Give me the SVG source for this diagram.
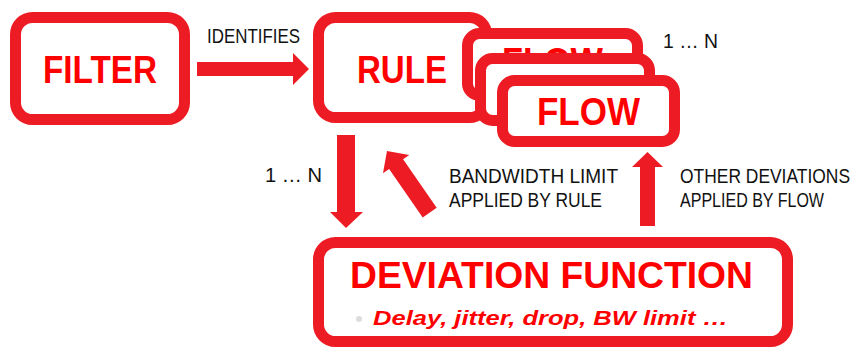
<svg xmlns="http://www.w3.org/2000/svg" width="854" height="347" viewBox="0 0 854 347">
<style>
.box{fill:#fff;stroke:#ED1C24;stroke-width:11}
.t{font-family:"Liberation Sans",Arial,sans-serif;font-weight:bold;fill:#FF0000}
.lbl{font-family:"Liberation Sans",Arial,sans-serif;font-size:21px;fill:#111}
.arr{fill:#ED1C24}
</style>
<rect width="854" height="347" fill="#fff"/>
<g id="filter">
<rect class="box" x="15.5" y="17.5" width="169" height="102" rx="17"/>
<text class="t" x="43" y="83" font-size="39" textLength="114" lengthAdjust="spacingAndGlyphs">FILTER</text>
</g>
<g id="rule">
<rect class="box" x="318.5" y="17.5" width="168" height="100" rx="17"/>
<text class="t" x="357" y="83" font-size="39" textLength="90" lengthAdjust="spacingAndGlyphs">RULE</text>
</g>
<g id="flow1">
<rect class="box" x="467.5" y="33.5" width="170" height="62" rx="12"/>
<text class="t" x="502" y="75" font-size="38" textLength="101" lengthAdjust="spacingAndGlyphs">FLOW</text>
</g>
<g id="flow2">
<rect class="box" x="480.5" y="58.5" width="169" height="62" rx="12"/>
</g>
<g id="flow3">
<rect class="box" x="502.5" y="80.5" width="172" height="61" rx="12"/>
<text class="t" x="537" y="125" font-size="38" textLength="103" lengthAdjust="spacingAndGlyphs">FLOW</text>
</g>
<g id="deviation">
<rect class="box" x="318.5" y="242.5" width="469" height="99" rx="17"/>
<text class="t" x="350" y="288" font-size="36" textLength="403" lengthAdjust="spacingAndGlyphs">DEVIATION FUNCTION</text>
<circle cx="359" cy="319" r="3" fill="#ddd"/>
<text class="t" x="373" y="325" font-size="21" font-style="italic" textLength="355" lengthAdjust="spacingAndGlyphs">Delay, jitter, drop, BW limit …</text>
</g>
<g id="connectors">
<polygon class="arr" points="197,62 293,62 293,53 309,69 293,85 293,76 197,76"/>
<polygon class="arr" points="337,135 355,135 355,212 363,212 346,228 330,212 337,212"/>
<polygon class="arr" points="640,226 655,226 655,167 663,167 647.5,152 632,167 640,167"/>
<polygon class="arr" transform="translate(387,151) rotate(-34.7)" points="0,0 16,16 8.5,16 8.5,75 -8.5,75 -8.5,16 -16,16"/>
<text class="lbl" x="207" y="43" font-size="15.5" textLength="93" lengthAdjust="spacingAndGlyphs">IDENTIFIES</text>
<text class="lbl" x="663" y="48" textLength="55" lengthAdjust="spacingAndGlyphs">1 … N</text>
<text class="lbl" x="265" y="182" textLength="57" lengthAdjust="spacingAndGlyphs">1 … N</text>
<text class="lbl" x="449" y="183" textLength="169" lengthAdjust="spacingAndGlyphs">BANDWIDTH LIMIT</text>
<text class="lbl" x="449" y="207" textLength="153" lengthAdjust="spacingAndGlyphs">APPLIED BY RULE</text>
<text class="lbl" x="680" y="183" textLength="170" lengthAdjust="spacingAndGlyphs">OTHER DEVIATIONS</text>
<text class="lbl" x="680" y="207" textLength="144" lengthAdjust="spacingAndGlyphs">APPLIED BY FLOW</text>
</g>
</svg>
